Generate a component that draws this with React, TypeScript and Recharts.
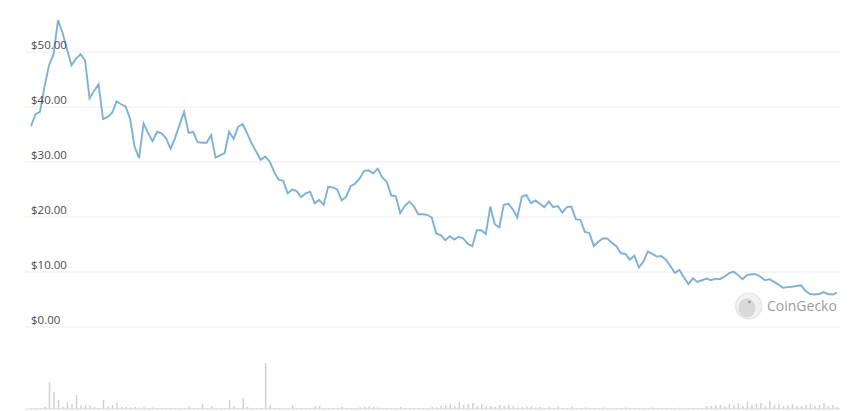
import React from "react";
import { LineChart, Line, XAxis, YAxis, CartesianGrid, BarChart, Bar } from "recharts";

const prices: number[] = [
  36.5, 38.7, 39.1, 43.7, 47.6, 49.6, 55.8, 53.5, 50.5, 47.6,
  48.8, 49.6, 48.5, 41.6, 42.9, 44.1, 37.8, 38.2, 38.9, 41.0,
  40.5, 40.1, 37.9, 32.8, 30.7, 37.0, 35.3, 33.8, 35.5, 35.2,
  34.3, 32.4, 34.4, 36.8, 39.1, 35.3, 35.5, 33.6, 33.5, 33.5,
  34.9, 30.8, 31.2, 31.6, 35.5, 34.2, 36.4, 36.9, 35.2, 33.4,
  31.9, 30.4, 31.0, 30.1, 28.2, 26.8, 26.6, 24.3, 25.0, 24.7,
  23.6, 24.3, 24.6, 22.5, 23.1, 22.2, 25.5, 25.4, 25.0, 23.0,
  23.7, 25.6, 26.1, 27.0, 28.4, 28.5, 27.9, 28.8, 27.2, 26.4,
  23.9, 23.8, 20.7, 22.0, 22.8, 22.0, 20.5, 20.5, 20.4, 19.9,
  17.0, 16.7, 15.8, 16.5, 15.9, 16.4, 16.1, 15.1, 14.7, 17.6,
  17.6, 16.9, 21.9, 18.7, 18.1, 22.2, 22.4, 21.4, 19.9, 23.7,
  24.0, 22.5, 23.0, 22.4, 21.8, 22.8, 21.8, 22.0, 20.8, 21.8,
  21.9, 19.6, 19.5, 17.3, 17.1, 14.7, 15.5, 16.1, 16.1, 15.3,
  14.7, 13.4, 13.3, 12.2, 13.0, 10.8, 11.9, 13.7, 13.3, 12.8,
  12.9, 12.2, 11.1, 9.8, 10.4, 9.0, 7.8, 8.85, 8.2, 8.5,
  8.8, 8.5, 8.8, 8.7, 9.15, 9.76, 10.06, 9.45, 8.7, 9.45,
  9.6, 9.6, 9.15, 8.5, 8.7, 8.2, 7.7, 7.15, 7.25, 7.33,
  7.45, 7.58, 6.6, 6.0, 5.9, 6.0, 6.36, 6.0, 5.9, 6.24,
];

const volumes: number[] = [
  1, 1, 1, 2, 27, 17, 9, 2, 6.5, 5,
  14, 4, 4, 4, 2, 1, 9, 3, 4, 6.5,
  2, 2, 1.5, 2, 1.5, 2, 1, 1.5, 1, 1,
  1, 1, 1, 1, 1, 2.7, 1, 1, 5, 1,
  3, 1, 1, 1, 9, 3, 1, 11, 2, 1,
  1, 1, 46, 4, 1, 1, 1, 1, 4, 1,
  1, 1, 1, 3, 3, 1, 1, 1, 1, 2,
  1, 1, 1, 2, 2.5, 2.5, 2, 1.5, 1, 1,
  1, 1, 2, 1, 1, 1, 1, 1, 1, 2,
  1.5, 3, 4, 5, 3, 7, 4, 5, 6, 3,
  5, 3, 3, 2, 4, 3, 4, 3, 1.5, 2,
  2, 3, 1.5, 2, 1, 2, 1, 2.5, 1, 1,
  2, 1, 1, 1.5, 1, 1, 1, 1.5, 1, 1,
  1, 1, 1.5, 1, 1, 1, 1, 1, 1.5, 1,
  1, 1, 1, 1, 1.5, 1, 1, 1, 1, 1,
  3, 3, 4, 4, 3, 5, 4, 6, 3, 7,
  4, 5, 6, 3, 8, 4, 5, 3, 4, 5,
  3, 3, 4, 5, 3, 4, 6, 3, 4, 2,
];

const priceTicks: number[] = [0, 10, 20, 30, 40, 50, 60];

const data = prices.map((price, i) => ({ day: i, price, volume: volumes[i] }));

const PriceTick = (props: any) => {
  const { y, payload } = props;
  return (
    <text
      x={31}
      y={y - 3}
      fill="#4d4d4d"
      fontSize={11.5}
      fontFamily="'Open Sans', 'Noto Sans', sans-serif"
      textAnchor="start"
    >
      {"$" + Number(payload.value).toFixed(2)}
    </text>
  );
};

export default function App() {
  return (
    <div style={{ position: "absolute", left: 0, top: 0, width: 850, height: 411, background: "#fff", overflow: "hidden" }}>
      <div style={{ position: "absolute", left: 0, top: -3 }}>
        <LineChart width={850} height={343} data={data} margin={{ top: 0, right: 10, bottom: 13, left: 0 }}>
          <CartesianGrid vertical={false} stroke="#ececec" />
          <XAxis dataKey="day" type="number" domain={[0, prices.length - 1]} hide padding={{ left: 6, right: 3 }} />
          <YAxis
            domain={[0, 60]}
            ticks={priceTicks}
            width={25}
            axisLine={false}
            tickLine={false}
            interval={0}
            tick={<PriceTick />}
          />
          <Line
            type="linear"
            dataKey="price"
            stroke="#7db1d9"
            strokeWidth={1.9}
            dot={false}
            isAnimationActive={false}
          />
        </LineChart>
      </div>
      <div style={{ position: "absolute", left: 0, top: 340 }}>
        <BarChart width={850} height={71} data={data} margin={{ top: 19, right: 10, bottom: 0, left: 25 }}>
          <XAxis
            dataKey="day"
            type="number"
            domain={[0, prices.length - 1]}
            padding={{ left: 6, right: 3 }}
            height={2}
            tick={false}
            tickLine={false}
            axisLine={{ stroke: "#d6d6d6" }}
          />
          <YAxis hide domain={[0, 50]} />
          <Bar dataKey="volume" fill="#cdd2d8" barSize={1.5} isAnimationActive={false} />
        </BarChart>
      </div>
      <svg
        width={112}
        height={34}
        style={{ position: "absolute", left: 730, top: 290 }}
      >
        <circle cx={18.7} cy={16} r={13} fill="#f1f1f1" stroke="#e2e2e2" strokeWidth={1.2} />
        <ellipse cx={17} cy={18} rx={8.5} ry={9.5} fill="#d9d9d9" />
        <circle cx={19.5} cy={12} r={1.3} fill="#9a9a9a" />
        <text
          x={37}
          y={21}
          fontSize={14}
          fill="#9d9d9d"
          fontFamily="'Open Sans', 'Noto Sans', sans-serif"
        >
          CoinGecko
        </text>
      </svg>
    </div>
  );
}
